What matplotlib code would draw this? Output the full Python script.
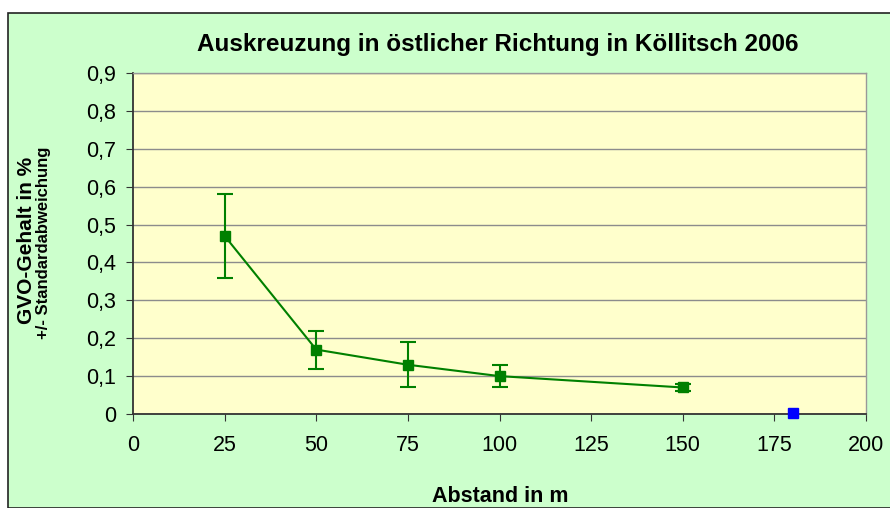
import matplotlib
matplotlib.use('Agg')
import matplotlib.pyplot as plt
from matplotlib.patches import Rectangle
from matplotlib.ticker import FuncFormatter

# data
distance = [25, 50, 75, 100, 150]
gvo = [0.47, 0.17, 0.13, 0.10, 0.07]
std = [0.11, 0.05, 0.06, 0.03, 0.008]
ref_x = [180]
ref_y = [0.003]


def comma_fmt(v, pos):
    if abs(v) < 1e-9:
        return '0'
    return f'{v:.1f}'.replace('.', ',')


plt.rcParams['font.family'] = ['Liberation Sans', 'DejaVu Sans']

fig = plt.figure(figsize=(8.9, 5.08), dpi=100)
fig.patch.set_facecolor('white')
# outer chart box, kept behind the axes
fig.patches.append(Rectangle((8 / 890, 0), 1, 1 - 13 / 508, transform=fig.transFigure,
                             facecolor='#ccffcc', edgecolor='#222222', linewidth=1.2,
                             zorder=-10))

ax = fig.add_axes([133 / 890, 1 - 414 / 508, (866 - 133) / 890, (414 - 73) / 508])
ax.set_facecolor('#ffffcc')

ax.errorbar(distance, gvo, yerr=std, color='#008000', marker='s', markersize=7,
            linewidth=1.5, capsize=6, elinewidth=1.5, capthick=1.5, zorder=3)
ax.plot(ref_x, ref_y, marker='s', color='#0000ff', markersize=7, linestyle='none',
        zorder=4, clip_on=False)

ax.set_xlim(0, 200)
ax.set_ylim(0, 0.9)
ax.set_xticks(range(0, 201, 25))
ax.set_yticks([i / 10 for i in range(10)])
ax.yaxis.set_major_formatter(FuncFormatter(comma_fmt))
ax.grid(axis='y', color='#8c8c8c', linewidth=1)
ax.set_axisbelow(True)
ax.tick_params(labelsize=15.5, length=5, color='#333333')
ax.tick_params(axis='x', pad=10)
ax.tick_params(axis='y', pad=7)

for side in ['left', 'bottom']:
    ax.spines[side].set_color('#333333')
    ax.spines[side].set_linewidth(1.3)
for side in ['top', 'right']:
    ax.spines[side].set_color('#999999')
    ax.spines[side].set_linewidth(1)

fig.text(498 / 890, 1 - 45 / 508, 'Auskreuzung in östlicher Richtung in Köllitsch 2006',
         ha='center', va='center', fontsize=17.5, fontweight='bold')
fig.text(500 / 890, 1 - 496 / 508, 'Abstand in m', ha='center', va='center',
         fontsize=15.5, fontweight='bold')
fig.text(27 / 890, 1 - 240 / 508, 'GVO-Gehalt in %', ha='center', va='center',
         rotation=90, fontsize=15, fontweight='bold')
fig.text(44 / 890, 1 - 243 / 508, '+/- Standardabweichung', ha='center', va='center',
         rotation=90, fontsize=12, fontweight='bold')

fig.savefig('out.png', dpi=100)
